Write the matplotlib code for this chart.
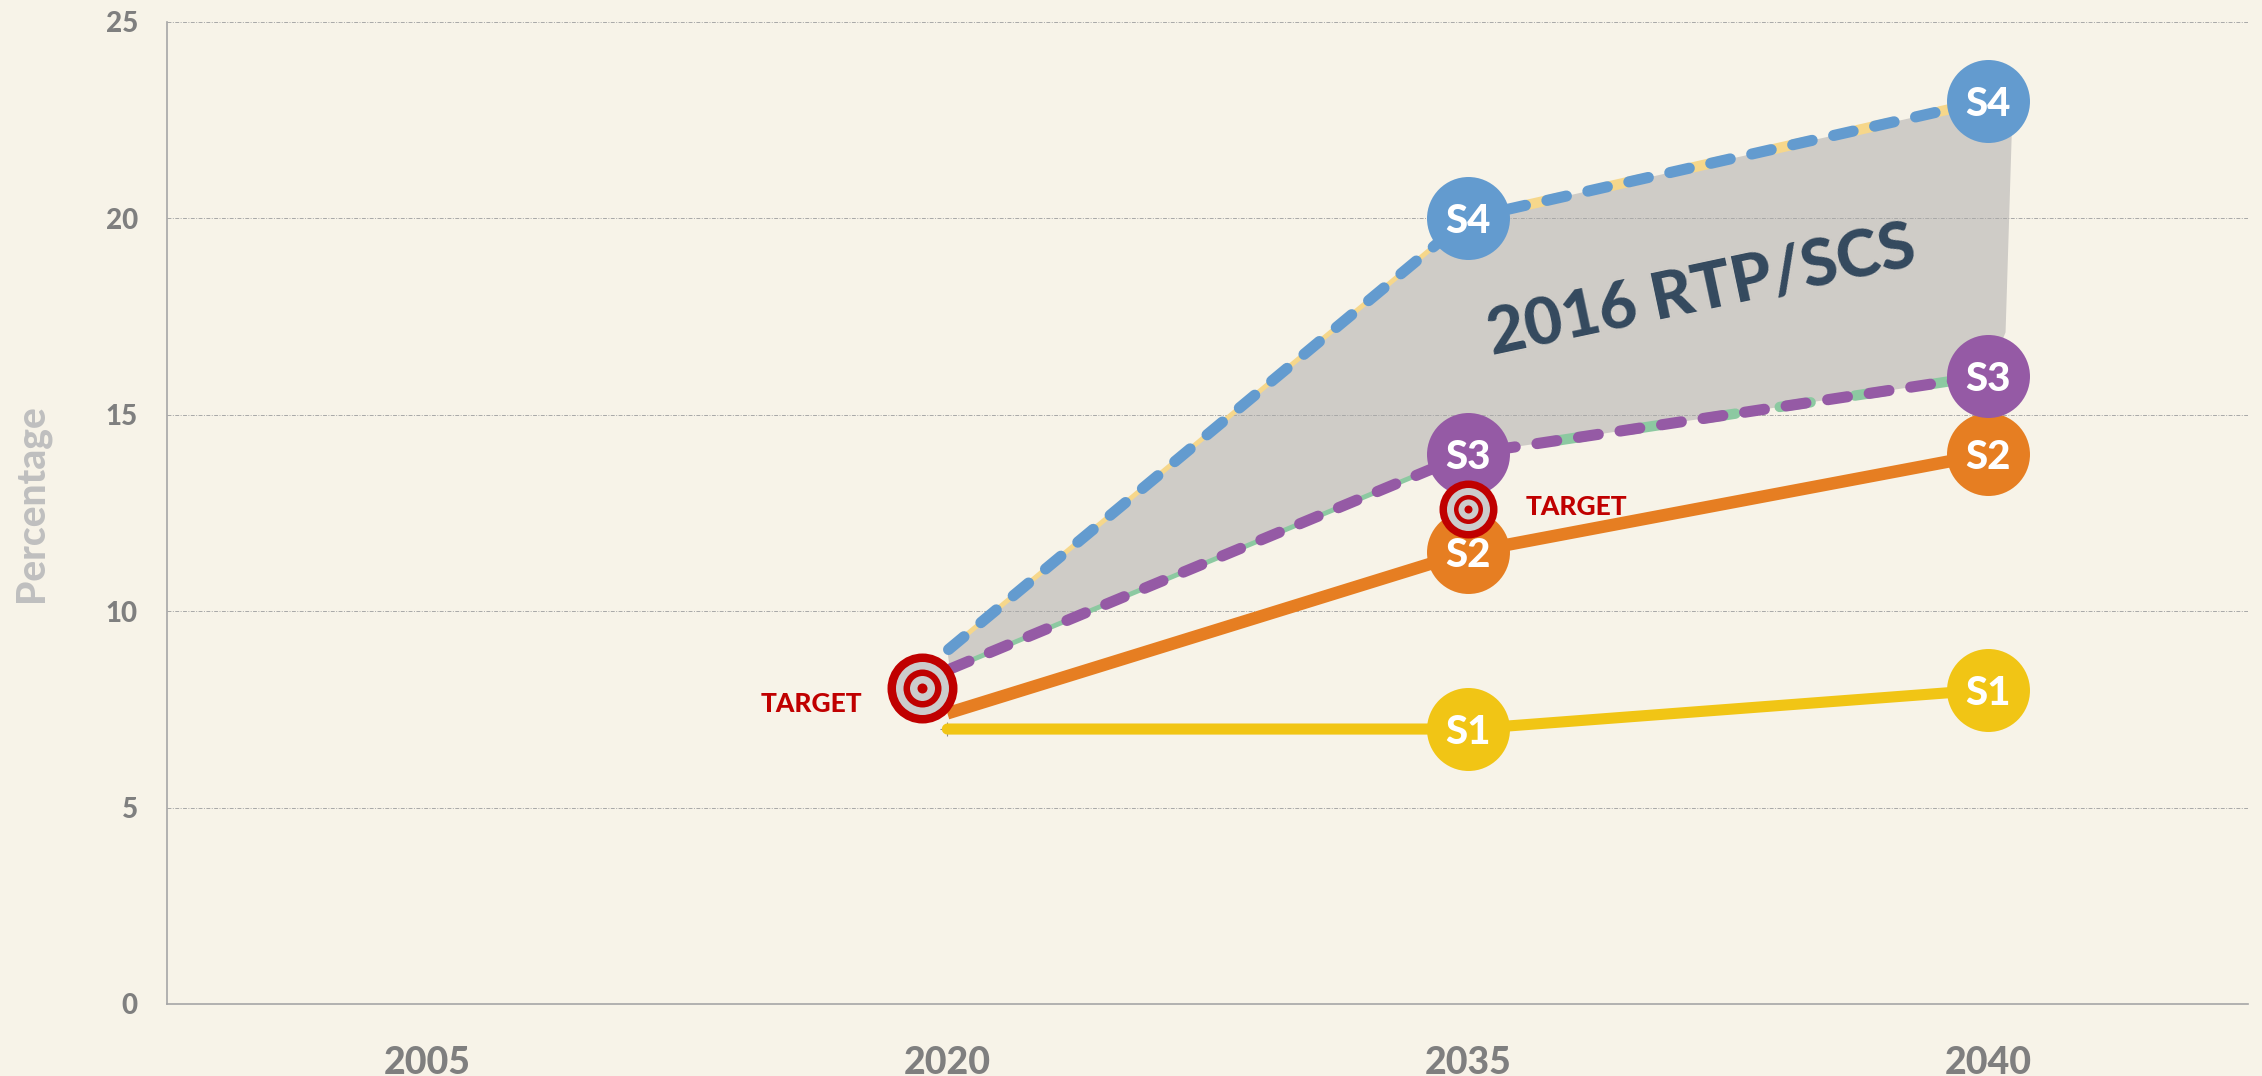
import matplotlib
matplotlib.use('Agg')
import matplotlib.pyplot as plt

plt.rcParams['font.family'] = ['Lato', 'DejaVu Sans']
plt.rcParams['font.weight'] = 'black'

# dados
categorias = ['2005', '2020', '2035', '2040']
pos_s = [1, 2, 3]
s1 = [7, 7, 8]
s2 = [7.4, 11.5, 14]
s3 = [8.5, 14, 16]
s4 = [9, 20, 23]
y_ticks = [0, 5, 10, 15, 20, 25]

# faixa cinza 2016 RTP/SCS
faixa_x = [1, 2, 3, 3.046, 3.034, 3, 2, 1.005]
faixa_y = [9, 20, 23, 22.2, 17.1, 16, 14, 8.5]

# alvos
alvo_x = [0.952, 2.0]
alvo_y = [8.05, 12.6]

cor_fundo = '#F7F3E8'
cor_s1 = '#F1C515'
cor_s2 = '#E67E22'
cor_s3 = '#955AA5'
cor_s4 = '#639BCF'
cor_verm = '#C00000'
cor_cinza = '#CCCCCC'

fig = plt.figure(figsize=(22.62, 10.76), dpi=100, facecolor=cor_fundo)
ax = fig.add_axes([167 / 2262, 1 - 1004 / 1076, (2248 - 167) / 2262, (1004 - 22) / 1076])
ax.set_facecolor(cor_fundo)
ax.set_xlim(-0.5, 3.5)
ax.set_ylim(0, 25)

ax.fill(faixa_x, faixa_y, color='#CFCCC7', lw=0, zorder=1)

ax.set_axisbelow('line')
ax.yaxis.grid(True, color='#A8A8A8', lw=0.7, ls=(0, (4, 1.5, 1, 1.5)))
ax.xaxis.grid(False)
for lado in ['top', 'right']:
    ax.spines[lado].set_visible(False)
for lado in ['left', 'bottom']:
    ax.spines[lado].set_color('#A6A6A6')
    ax.spines[lado].set_linewidth(1.2)

ax.set_xticks(range(len(categorias)))
ax.set_xticklabels(categorias)
ax.set_yticks(y_ticks)
ax.tick_params(axis='both', length=0, labelcolor='#7F7F7F')
ax.tick_params(axis='y', pad=21, labelsize=20)
ax.tick_params(axis='x', pad=30, labelsize=27)

fig.text(32 / 2262, 1 - 503 / 1076, 'Percentage', rotation=90, ha='center', va='center',
         fontsize=28, color='#BFBFBF')

# linhas de baixo, claras
ax.plot(pos_s[:2], s4[:2], color='#F6D78B', lw=3.5, zorder=2.1)
ax.plot(pos_s[:2], s3[:2], color='#8CC9A1', lw=3.5, zorder=2.1)
ax.plot(pos_s[1:], s4[1:], color='#F6D78B', lw=7.5, zorder=2.1,
        ls=(2.16, (3, 5.1)), dash_capstyle='round')
ax.plot(pos_s[1:], s3[1:], color='#8CC9A1', lw=7.5, zorder=2.1,
        ls=(6.2, (3, 4.3)), dash_capstyle='round')

# series
ax.plot(pos_s, s4, color=cor_s4, lw=8, ls=(3.64, (1.8, 1.98)), dash_capstyle='round', zorder=2.2)
ax.plot(pos_s, s3, color=cor_s3, lw=8, ls=(3.47, (1.8, 1.98)), dash_capstyle='round', zorder=2.2)
ax.plot(pos_s, s2, color=cor_s2, lw=9, solid_capstyle='butt', zorder=2.2)
ax.plot(pos_s[0], s1[0], marker='+', ms=10, mew=0.8, color='#8C8C8C', zorder=2.15)
ax.plot(pos_s, s1, color=cor_s1, lw=8, solid_capstyle='round', zorder=2.2)

# bolinhas com nome
for nome, vals, cor in [('S1', s1, cor_s1), ('S2', s2, cor_s2), ('S3', s3, cor_s3), ('S4', s4, cor_s4)]:
    ax.scatter(pos_s[1:], vals[1:], s=3570, color=cor, lw=0, zorder=3, clip_on=False)
    for x, y in zip(pos_s[1:], vals[1:]):
        ax.text(x, y, nome, color='white', fontsize=29,
                ha='center', va='center_baseline', zorder=4)

# alvos
tamanhos = [[70, 53, 38, 25, 10], [58, 43, 29, 20, 8]]
for x, y, diam in zip(alvo_x, alvo_y, tamanhos):
    for i, d in enumerate(diam):
        cor = cor_verm if i % 2 == 0 else cor_cinza
        ax.scatter([x], [y], s=(d * 0.72) ** 2, color=cor, lw=0, zorder=5 + i / 10)

ax.text(0.738, 7.65, 'TARGET', color=cor_verm, fontsize=19, ha='center', va='center', zorder=6)
ax.text(2.21, 12.65, 'TARGET', color=cor_verm, fontsize=19, ha='center', va='center', zorder=6)

ax.text(2.45, 18.15, '2016 RTP/SCS', color='#34495E', fontsize=47,
        rotation=12, ha='center', va='center', rotation_mode='anchor', zorder=4)

fig.savefig('out.png', dpi=100, facecolor=cor_fundo)
